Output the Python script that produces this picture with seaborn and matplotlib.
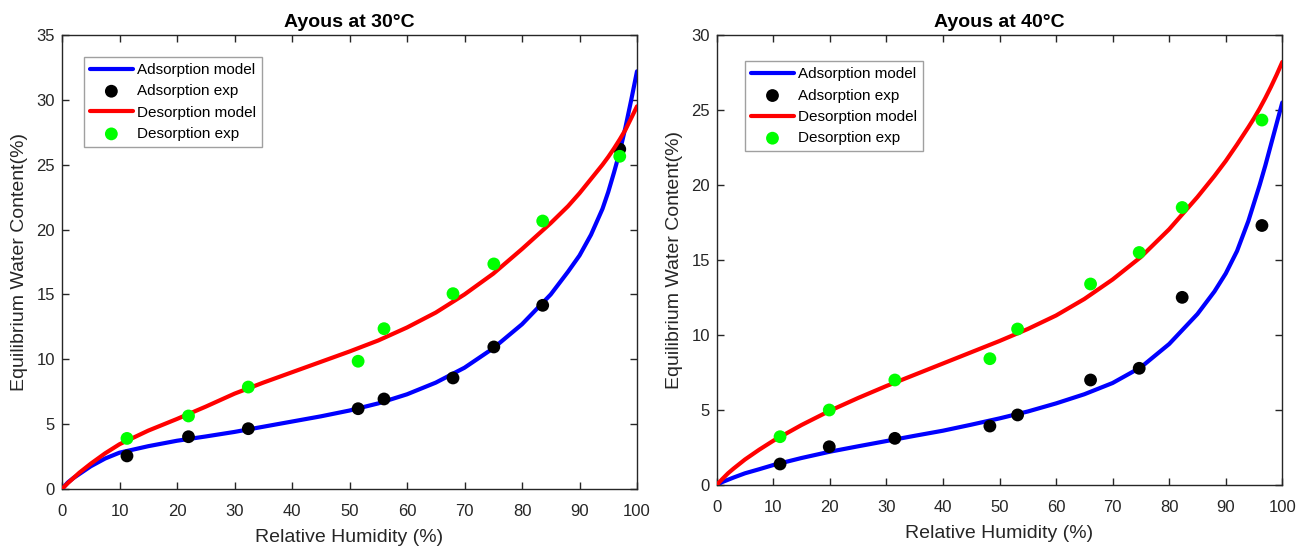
import matplotlib
matplotlib.use("Agg")
import matplotlib.pyplot as plt
import seaborn as sns
import pandas as pd

# ---------------- data ----------------
# Ayous at 30 °C
rh_model_30 = [0, 1, 2, 3, 5, 7.5, 10, 15, 20, 25, 30, 35, 40, 45, 50, 55, 60, 65, 70, 75,
               80, 85, 88, 90, 92, 94, 95, 96, 97, 98, 99, 100]
ads_model_30 = [0, 0.5, 0.85, 1.15, 1.75, 2.35, 2.8, 3.3, 3.72, 4.05, 4.4, 4.8, 5.2, 5.6, 6.05,
                6.6, 7.3, 8.2, 9.35, 10.85, 12.7, 15.0, 16.75, 18.0, 19.6, 21.6, 22.9, 24.4,
                26.0, 27.9, 30.0, 32.2]
des_model_30 = [0, 0.45, 0.85, 1.25, 1.95, 2.75, 3.45, 4.5, 5.4, 6.35, 7.35, 8.2, 9.0, 9.8,
                10.6, 11.45, 12.45, 13.6, 15.0, 16.6, 18.5, 20.5, 21.8, 22.8, 23.9, 25.0, 25.6,
                26.25, 26.95, 27.7, 28.6, 29.5]
rh_exp_30 = [11.3, 22.0, 32.4, 51.5, 56.0, 68.0, 75.1, 83.6, 97.0]
ads_exp_30 = [2.55, 4.03, 4.65, 6.19, 6.94, 8.56, 10.95, 14.16, 26.2]
des_exp_30 = [3.9, 5.63, 7.86, 9.85, 12.36, 15.06, 17.35, 20.66, 25.65]

# Ayous at 40 °C
rh_model_40 = [0, 1, 2, 3, 5, 7.5, 10, 15, 20, 25, 30, 35, 40, 45, 50, 55, 60, 65, 70, 75,
               80, 85, 88, 90, 92, 94, 95, 96, 97, 98, 99, 100]
ads_model_40 = [0, 0.2, 0.35, 0.5, 0.78, 1.05, 1.33, 1.8, 2.22, 2.58, 2.93, 3.28, 3.62, 4.02,
                4.44, 4.9, 5.44, 6.05, 6.8, 7.85, 9.4, 11.4, 12.9, 14.1, 15.6, 17.6, 18.8,
                20.0, 21.3, 22.7, 24.1, 25.5]
des_model_40 = [0, 0.4, 0.78, 1.1, 1.7, 2.35, 2.95, 4.0, 4.95, 5.8, 6.6, 7.35, 8.1, 8.85, 9.6,
                10.4, 11.3, 12.4, 13.7, 15.2, 17.05, 19.2, 20.6, 21.6, 22.7, 23.85, 24.45,
                25.1, 25.8, 26.55, 27.35, 28.2]
rh_exp_40 = [11.2, 19.9, 31.5, 48.3, 53.2, 66.1, 74.7, 82.3, 96.4]
ads_exp_40 = [1.4, 2.55, 3.11, 3.93, 4.67, 7.0, 7.78, 12.51, 17.3]
des_exp_40 = [3.22, 5.0, 7.0, 8.42, 10.4, 13.4, 15.5, 18.5, 24.33]

titles = ["Ayous at 30°C", "Ayous at 40°C"]
ylims = [35, 30]
legend_labels = ["Adsorption model", "Adsorption exp", "Desorption model", "Desorption exp"]

# ---------------- style ----------------
sns.set_theme(style="white")
plt.rcParams["font.family"] = ["Liberation Sans", "DejaVu Sans"]
TXT = "#262626"

fig = plt.figure(figsize=(13.09, 5.47), dpi=100)
positions = [[62 / 1309, 58 / 547, 575 / 1309, 454 / 547],
             [716.7 / 1309, 62 / 547, 565.6 / 1309, 450 / 547]]
legend_anchor = [(0.038, 0.952), (0.05, 0.942)]

panels = [
    (rh_model_30, ads_model_30, des_model_30, rh_exp_30, ads_exp_30, des_exp_30),
    (rh_model_40, ads_model_40, des_model_40, rh_exp_40, ads_exp_40, des_exp_40),
]

for i, (rhm, adm, dem, rhe, ade, dee) in enumerate(panels):
    ax = fig.add_axes(positions[i])
    model = pd.DataFrame({"rh": rhm, "ads": adm, "des": dem})
    exp = pd.DataFrame({"rh": rhe, "ads": ade, "des": dee})

    sns.lineplot(data=model, x="rh", y="ads", ax=ax, color="#0000ff", linewidth=3.0,
                 label=legend_labels[0], sort=False)
    sns.scatterplot(data=exp, x="rh", y="ads", ax=ax, color="black", s=85,
                    edgecolor="none", label=legend_labels[1], zorder=3)
    sns.lineplot(data=model, x="rh", y="des", ax=ax, color="#ff0000", linewidth=3.0,
                 label=legend_labels[2], sort=False, zorder=4)
    sns.scatterplot(data=exp, x="rh", y="des", ax=ax, color="#00ff00", s=85,
                    edgecolor="none", label=legend_labels[3], zorder=5)

    ax.set_xlim(0, 100)
    ax.set_ylim(0, ylims[i])
    ax.set_xticks(range(0, 101, 10))
    ax.set_yticks(range(0, ylims[i] + 1, 5))
    ax.tick_params(axis="both", which="both", direction="in", length=5, width=1,
                   top=True, right=True, bottom=True, left=True,
                   labelsize=12, colors=TXT)
    ax.tick_params(axis="x", pad=11)
    ax.tick_params(axis="y", pad=5)
    for sp in ax.spines.values():
        sp.set_color(TXT)
        sp.set_linewidth(1.0)
    ax.set_xlabel("Relative Humidity (%)", fontsize=14, color=TXT, labelpad=7)
    ax.set_ylabel("Equilibrium Water Content(%)", fontsize=14, color=TXT, labelpad=6)
    ax.set_title(titles[i], fontsize=14, fontweight="bold", color="black", pad=6)

    handles, labels = ax.get_legend_handles_labels()
    leg = ax.legend(handles, labels, loc="upper left", bbox_to_anchor=legend_anchor[i],
                    fontsize=11, frameon=True, fancybox=False, framealpha=1,
                    edgecolor="#a0a0a0", handlelength=2.8, handletextpad=0.25,
                    labelspacing=0.48, borderpad=0.4, borderaxespad=0)
    leg.get_frame().set_linewidth(1.0)
    for t in leg.get_texts():
        t.set_color("black")

fig.savefig("out.png", dpi=100)
